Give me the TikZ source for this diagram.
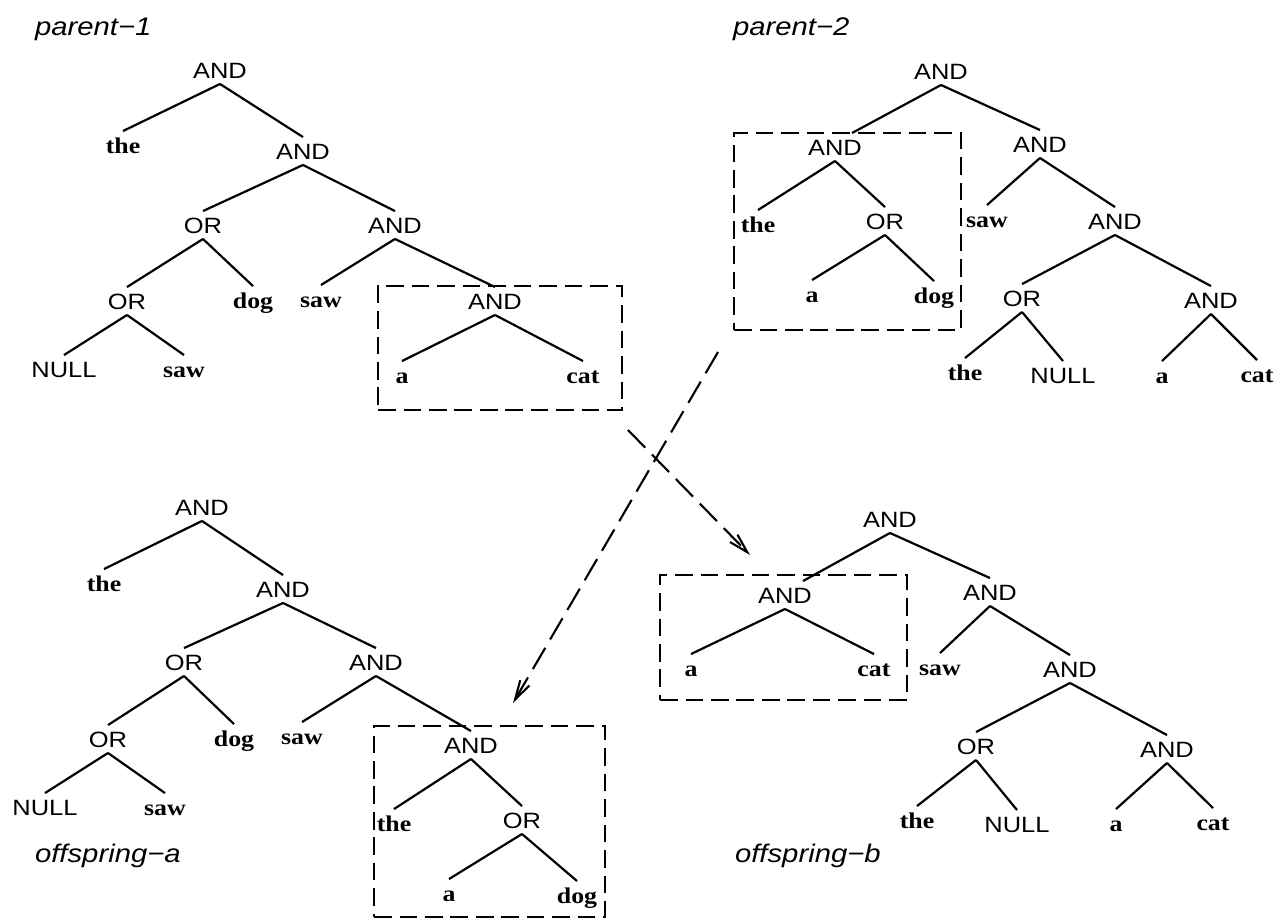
\documentclass[tikz,border=0pt]{standalone}
\usepackage{fontspec}
\usepackage{graphicx}
\setmainfont{Liberation Serif}
\newfontfamily\sansf{Liberation Sans}
\usetikzlibrary{arrows.meta}
\newcommand{\tsans}[1]{\scalebox{1.15}[1]{\sansf\fontsize{12.6}{14}\selectfont #1}}
\newcommand{\tword}[1]{\scalebox{1.15}[1]{\bfseries\fontsize{12.8}{14}\selectfont #1}}
\newcommand{\ttitle}[1]{\scalebox{1.15}[1]{\sansf\itshape\fontsize{14.5}{17}\selectfont #1}}
\tikzset{
  lab/.style={anchor=base, inner sep=0pt, outer sep=0pt, text height=12.5pt, text depth=3.4pt},
  ttl/.style={anchor=base west, inner sep=0pt, outer sep=0pt},
  dbox/.style={draw, rectangle, inner sep=0pt, outer sep=0pt, line width=1.2pt, dash pattern=on 10pt off 4.5pt},
  darrow/.style={line width=1.2pt, dash pattern=on 14pt off 5.5pt, -{Straight Barb[length=11pt,width=6pt]}},
}
\begin{document}
\begin{tikzpicture}[x=0.02cm, y=-0.02cm, line width=1.25pt]
\useasboundingbox (0,0) rectangle (1275,920);

% titles
\node[ttl] (t1) at (35,35) {\ttitle{parent−1}};
\node[ttl] (t2) at (733,35) {\ttitle{parent−2}};
\node[ttl] (t3) at (35,862) {\ttitle{offspring−a}};
\node[ttl] (t4) at (735,862) {\ttitle{offspring−b}};

% dashed boxes
\node[dbox, minimum width=4.88cm, minimum height=2.48cm] (box1) at (500,348) {};
\node[dbox, minimum width=4.54cm, minimum height=3.94cm] (box2) at (847.5,231.5) {};
\node[dbox, minimum width=4.62cm, minimum height=3.82cm] (boxa) at (489.5,821.5) {};
\node[dbox, minimum width=4.94cm, minimum height=2.5cm] (boxb) at (783.5,637.5) {};

% parent-1
\node[lab] (p1a) at (220,78) {\tsans{AND}};
\node[lab] (p1the) at (123,153) {\tword{the}};
\node[lab] (p1b) at (303,159) {\tsans{AND}};
\node[lab] (p1or1) at (203,233) {\tsans{OR}};
\node[lab] (p1c) at (395,233) {\tsans{AND}};
\node[lab] (p1or2) at (127,309) {\tsans{OR}};
\node[lab] (p1dog) at (253,308) {\tword{dog}};
\node[lab] (p1saw1) at (321,307) {\tword{saw}};
\node[lab] (p1null) at (64,377) {\tsans{NULL}};
\node[lab] (p1saw2) at (184,377) {\tword{saw}};
\node[lab] (p1d) at (495,309) {\tsans{AND}};
\node[lab] (p1aa) at (402,383) {\tword{a}};
\node[lab] (p1cat) at (583,383) {\tword{cat}};

% parent-2
\node[lab] (p2a) at (941,79) {\tsans{AND}};
\node[lab] (p2b) at (835,155) {\tsans{AND}};
\node[lab] (p2c) at (1040,152) {\tsans{AND}};
\node[lab] (p2the) at (758,232) {\tword{the}};
\node[lab] (p2or) at (885,229) {\tsans{OR}};
\node[lab] (p2aa) at (812,302) {\tword{a}};
\node[lab] (p2dog) at (934,303) {\tword{dog}};
\node[lab] (p2saw) at (987,227) {\tword{saw}};
\node[lab] (p2d) at (1115,229) {\tsans{AND}};
\node[lab] (p2or2) at (1022,306) {\tsans{OR}};
\node[lab] (p2e) at (1211,308) {\tsans{AND}};
\node[lab] (p2the2) at (965,380) {\tword{the}};
\node[lab] (p2null) at (1063,383) {\tsans{NULL}};
\node[lab] (p2a2) at (1162,383) {\tword{a}};
\node[lab] (p2cat) at (1257,382) {\tword{cat}};

% offspring-a
\node[lab] (oa) at (202,515) {\tsans{AND}};
\node[lab] (oathe) at (104,591) {\tword{the}};
\node[lab] (ob) at (283,597) {\tsans{AND}};
\node[lab] (oor1) at (184,670) {\tsans{OR}};
\node[lab] (oc) at (376,670) {\tsans{AND}};
\node[lab] (oor2) at (108,747) {\tsans{OR}};
\node[lab] (odog) at (234,746) {\tword{dog}};
\node[lab] (osaw1) at (302,744) {\tword{saw}};
\node[lab] (onull) at (45,815) {\tsans{NULL}};
\node[lab] (osaw2) at (165,815) {\tword{saw}};
\node[lab] (od) at (471,753) {\tsans{AND}};
\node[lab] (othe2) at (394,831) {\tword{the}};
\node[lab] (oor3) at (522,828) {\tsans{OR}};
\node[lab] (oaa) at (449,901) {\tword{a}};
\node[lab] (odog2) at (577,903) {\tword{dog}};

% offspring-b
\node[lab] (ba) at (890,527) {\tsans{AND}};
\node[lab] (bb) at (785,603) {\tsans{AND}};
\node[lab] (bc) at (990,600) {\tsans{AND}};
\node[lab] (baa) at (691,676) {\tword{a}};
\node[lab] (bcat) at (874,676) {\tword{cat}};
\node[lab] (bsaw) at (940,675) {\tword{saw}};
\node[lab] (bd) at (1070,677) {\tsans{AND}};
\node[lab] (bor) at (976,754) {\tsans{OR}};
\node[lab] (be) at (1167,757) {\tsans{AND}};
\node[lab] (bthe) at (917,828) {\tword{the}};
\node[lab] (bnull) at (1017,832) {\tsans{NULL}};
\node[lab] (ba2) at (1116,831) {\tword{a}};
\node[lab] (bcat2) at (1213,830) {\tword{cat}};

% tree edges
\foreach \p/\c in {p1a/p1the, p1a/p1b, p1b/p1or1, p1b/p1c, p1or1/p1or2, p1or1/p1dog,
  p1c/p1saw1, p1c/p1d, p1or2/p1null, p1or2/p1saw2, p1d/p1aa, p1d/p1cat,
  p2a/p2c, p2b/p2the, p2b/p2or, p2or/p2aa, p2or/p2dog, p2c/p2saw, p2c/p2d,
  p2d/p2or2, p2d/p2e, p2or2/p2the2, p2or2/p2null, p2e/p2a2, p2e/p2cat,
  oa/oathe, oa/ob, ob/oor1, ob/oc, oor1/oor2, oor1/odog, oc/osaw1, oc/od,
  oor2/onull, oor2/osaw2, od/othe2, od/oor3, oor3/oaa, oor3/odog2,
  ba/bc, bb/baa, bb/bcat, bc/bsaw, bc/bd, bd/bor, bd/be, bor/bthe, bor/bnull,
  be/ba2, be/bcat2}
  \draw (\p.south) -- (\c.north);
\draw (p2a.south) -- ([shift={(17,0)}]p2b.north);
\draw (ba.south) -- ([shift={(18,0)}]bb.north);

% crossover arrows
\draw[darrow] ([shift={(6,20)}]box1.south east) -- ([shift={(90,-20)}]boxb.north west);
\draw[darrow] ([shift={(-16,22)}]box2.south west) -- ([shift={(139,-23)}]boxa.north west);
\end{tikzpicture}
\end{document}
